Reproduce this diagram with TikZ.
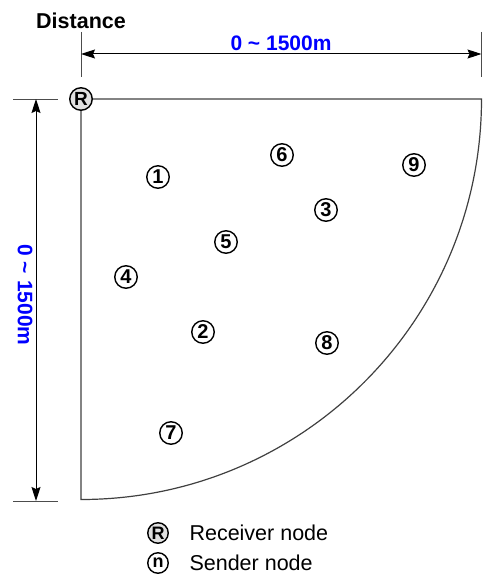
\documentclass[tikz,border=0pt]{standalone}
\usepackage{fontspec}
\setmainfont{Liberation Sans}
\usetikzlibrary{arrows.meta}
\begin{document}
\begin{tikzpicture}[
    x=1pt,
    y=-1pt,
    >={Stealth[length=14pt,width=9pt,inset=2pt]},
    sender/.style={draw,circle,line width=1.4pt,minimum size=22.5pt,inner sep=0pt,
        font=\fontsize{20}{20}\selectfont\bfseries},
    receiver/.style={sender,fill=black!12},
    borde/.style={black!75,line width=1.2pt},
    cota/.style={line width=1pt,<->},
    marca/.style={black!70,line width=1pt},
    rotulo/.style={text=blue,font=\fontsize{21}{21}\selectfont\bfseries},
    leyenda/.style={anchor=west,font=\fontsize{21.5}{21.5}\selectfont}
]
    \useasboundingbox (0,0) rectangle (483,578);

    % Cota horizontal
    \node[font=\fontsize{21.5}{21.5}\selectfont\bfseries] (titulo) at (81,21) {Distance};
    \coordinate (h1) at (81,32);  \coordinate (h2) at (81,77);
    \coordinate (h3) at (481.5,32); \coordinate (h4) at (481.5,77);
    \draw[marca] (h1) -- (h2);
    \draw[marca] (h3) -- (h4);
    \coordinate (ha) at (81,54); \coordinate (hb) at (481.5,54);
    \draw[cota] (ha) -- (hb);
    \node[rotulo] (ancho) at (281,43) {0 \char`~{} 1500m};

    % Cota vertical
    \coordinate (v1) at (13,99);  \coordinate (v2) at (58,99);
    \coordinate (v3) at (13,501); \coordinate (v4) at (58,501);
    \draw[marca] (v1) -- (v2);
    \draw[marca] (v3) -- (v4);
    \coordinate (va) at (36,99); \coordinate (vb) at (36,501);
    \draw[cota] (va) -- (vb);
    \node[rotulo,rotate=-90] (alto) at (25,295) {0 \char`~{} 1500m};

    % Cuadrante
    \node[receiver,font=\fontsize{19}{19}\selectfont\bfseries] (R) at (81,99) {R};
    \coordinate (esq) at (481.5,99);
    \draw[borde] (R.east) -- (esq) arc[start angle=0,end angle=90,radius=400.5] -- (R.south);

    % Nodos emisores
    \node[sender] (n1) at (158,177) {1};
    \node[sender] (n2) at (203,332) {2};
    \node[sender] (n3) at (326,210) {3};
    \node[sender] (n4) at (126,277) {4};
    \node[sender] (n5) at (226,242) {5};
    \node[sender] (n6) at (282,155) {6};
    \node[sender] (n7) at (171,433) {7};
    \node[sender] (n8) at (327,343) {8};
    \node[sender] (n9) at (414,165) {9};

    % Leyenda
    \node[receiver,minimum size=20.5pt,font=\fontsize{18}{18}\selectfont\bfseries] (lr) at (158,533) {R};
    \node[leyenda] (tr) at (186,533) {Receiver node};
    \node[sender,minimum size=20.5pt,font=\fontsize{18}{18}\selectfont\bfseries] (ls) at (158,563) {n};
    \node[leyenda] (ts) at (186,563) {Sender node};
\end{tikzpicture}
\end{document}
